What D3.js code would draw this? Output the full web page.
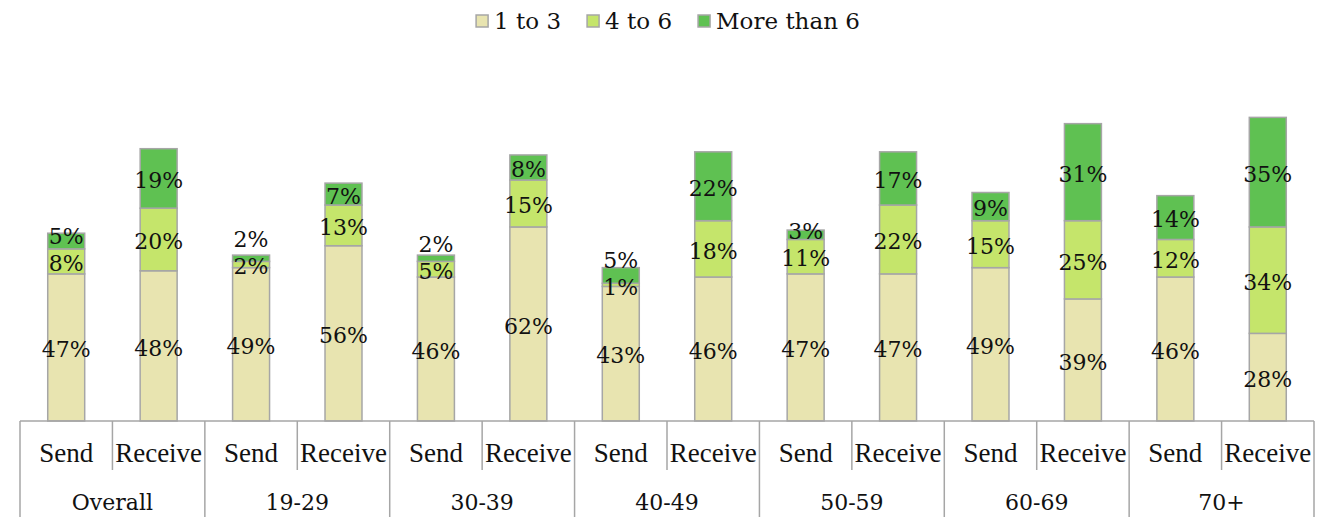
<!DOCTYPE html>
<html>
<head>
<meta charset="utf-8">
<script src="https://d3js.org/d3.v7.min.js"></script>
<style>
  body { margin: 0; background: #fff; }
  svg { display: block; }
</style>
</head>
<body>
<div id="chart"></div>
<script>
var groups = ["Overall", "19-29", "30-39", "40-49", "50-59", "60-69", "70+"];
var kinds = ["Send", "Receive"];
var series = ["1 to 3", "4 to 6", "More than 6"];
var colors = ["#e8e4b0", "#c5e56b", "#5fc152"];

// one entry per bar, order: group x (Send, Receive)
var low  = [47, 48, 49, 56, 46, 62, 43, 46, 47, 47, 49, 39, 46, 28];
var mid  = [ 8, 20,  2, 13,  5, 15,  1, 18, 11, 22, 15, 25, 12, 34];
var high = [ 5, 19,  2,  7,  2,  8,  5, 22,  3, 17,  9, 31, 14, 35];

var w = 1318,
    h = 517,
    baseY = 421;

var bars = [];
groups.forEach(function(g, gi) {
  kinds.forEach(function(k, ki) {
    var i = gi * 2 + ki;
    bars.push({id: i, group: g, kind: k, "1 to 3": low[i], "4 to 6": mid[i], "More than 6": high[i]});
  });
});

var svg = d3.select("#chart").append("svg")
    .attr("width", w)
    .attr("height", h);

var x = d3.scaleBand()
    .domain(d3.range(bars.length))
    .range([20, 1314]);

var y = d3.scaleLinear()
    .domain([0, 100])
    .range([baseY, 108]);

var stack = d3.stack().keys(series)(bars);
var barW = x.bandwidth() * 0.4;

var layer = svg.selectAll("g.layer")
    .data(stack)
  .enter().append("g")
    .attr("class", "layer")
    .style("fill", function(d, i) { return colors[i]; });

layer.selectAll("rect")
    .data(function(d) { return d; })
  .enter().append("rect")
    .attr("x", function(d, i) { return x(i) + (x.bandwidth() - barW) / 2; })
    .attr("y", function(d) { return y(d[1]); })
    .attr("width", barW)
    .attr("height", function(d) { return y(d[0]) - y(d[1]); })
    .style("stroke", "#a6a6a6")
    .style("stroke-width", 1.5);

// labels: centred in segments, pushed up when they collide
var labels = [];
bars.forEach(function(b, i) {
  var prev = null;
  stack.forEach(function(s) {
    var d = s[i];
    var cy = (y(d[0]) + y(d[1])) / 2 + 2;
    if (prev !== null && cy > prev - 27) cy = prev - 27;
    prev = cy;
    labels.push({x: x(i) + x.bandwidth() / 2, y: cy, v: d[1] - d[0]});
  });
});

svg.append("g").selectAll("text")
    .data(labels)
  .enter().append("text")
    .attr("x", function(d) { return d.x; })
    .attr("y", function(d) { return d.y; })
    .attr("dy", "0.35em")
    .attr("text-anchor", "middle")
    .style("font-family", "'DejaVu Serif', serif")
    .style("font-size", "22px")
    .style("fill", "#111")
    .text(function(d) { return d.v + "%"; });

// category axis
var axis = svg.append("g")
    .style("stroke", "#a6a6a6")
    .style("stroke-width", 1.5);

axis.append("line")
    .attr("x1", 20).attr("x2", 1314)
    .attr("y1", baseY).attr("y2", baseY);

d3.range(bars.length + 1).forEach(function(i) {
  var xx = i < bars.length ? x(i) : x.range()[1];
  axis.append("line")
      .attr("x1", xx).attr("x2", xx)
      .attr("y1", baseY)
      .attr("y2", i % 2 === 0 ? h : 470);
});

svg.append("g").selectAll("text")
    .data(bars)
  .enter().append("text")
    .attr("x", function(d, i) { return x(i) + x.bandwidth() / 2; })
    .attr("y", 462)
    .attr("text-anchor", "middle")
    .style("font-family", "'Liberation Serif', serif")
    .style("font-size", "27px")
    .style("fill", "#111")
    .text(function(d) { return d.kind; });

svg.append("g").selectAll("text")
    .data(groups)
  .enter().append("text")
    .attr("x", function(d, i) { return x(i * 2) + x.bandwidth(); })
    .attr("y", 510)
    .attr("text-anchor", "middle")
    .style("font-family", "'DejaVu Serif', serif")
    .style("font-size", "22px")
    .style("fill", "#111")
    .text(function(d) { return d; });

// legend
var legend = svg.append("g");
var items = legend.selectAll("g")
    .data(series)
  .enter().append("g");

items.append("rect")
    .attr("width", 12).attr("height", 12)
    .attr("y", 15)
    .style("fill", function(d, i) { return colors[i]; })
    .style("stroke", "#a6a6a6")
    .style("stroke-width", 1.5);

items.append("text")
    .attr("x", 18)
    .attr("y", 29)
    .style("font-family", "'DejaVu Serif', serif")
    .style("font-size", "23px")
    .style("fill", "#111")
    .text(function(d) { return d; });

var pos = 0, offs = [];
items.each(function() {
  offs.push(pos);
  pos += this.getBBox().width + 26;
});
var total = pos - 26;
var start = 668 - total / 2;
items.attr("transform", function(d, i) { return "translate(" + (start + offs[i]) + ",0)"; });
</script>
</body>
</html>
